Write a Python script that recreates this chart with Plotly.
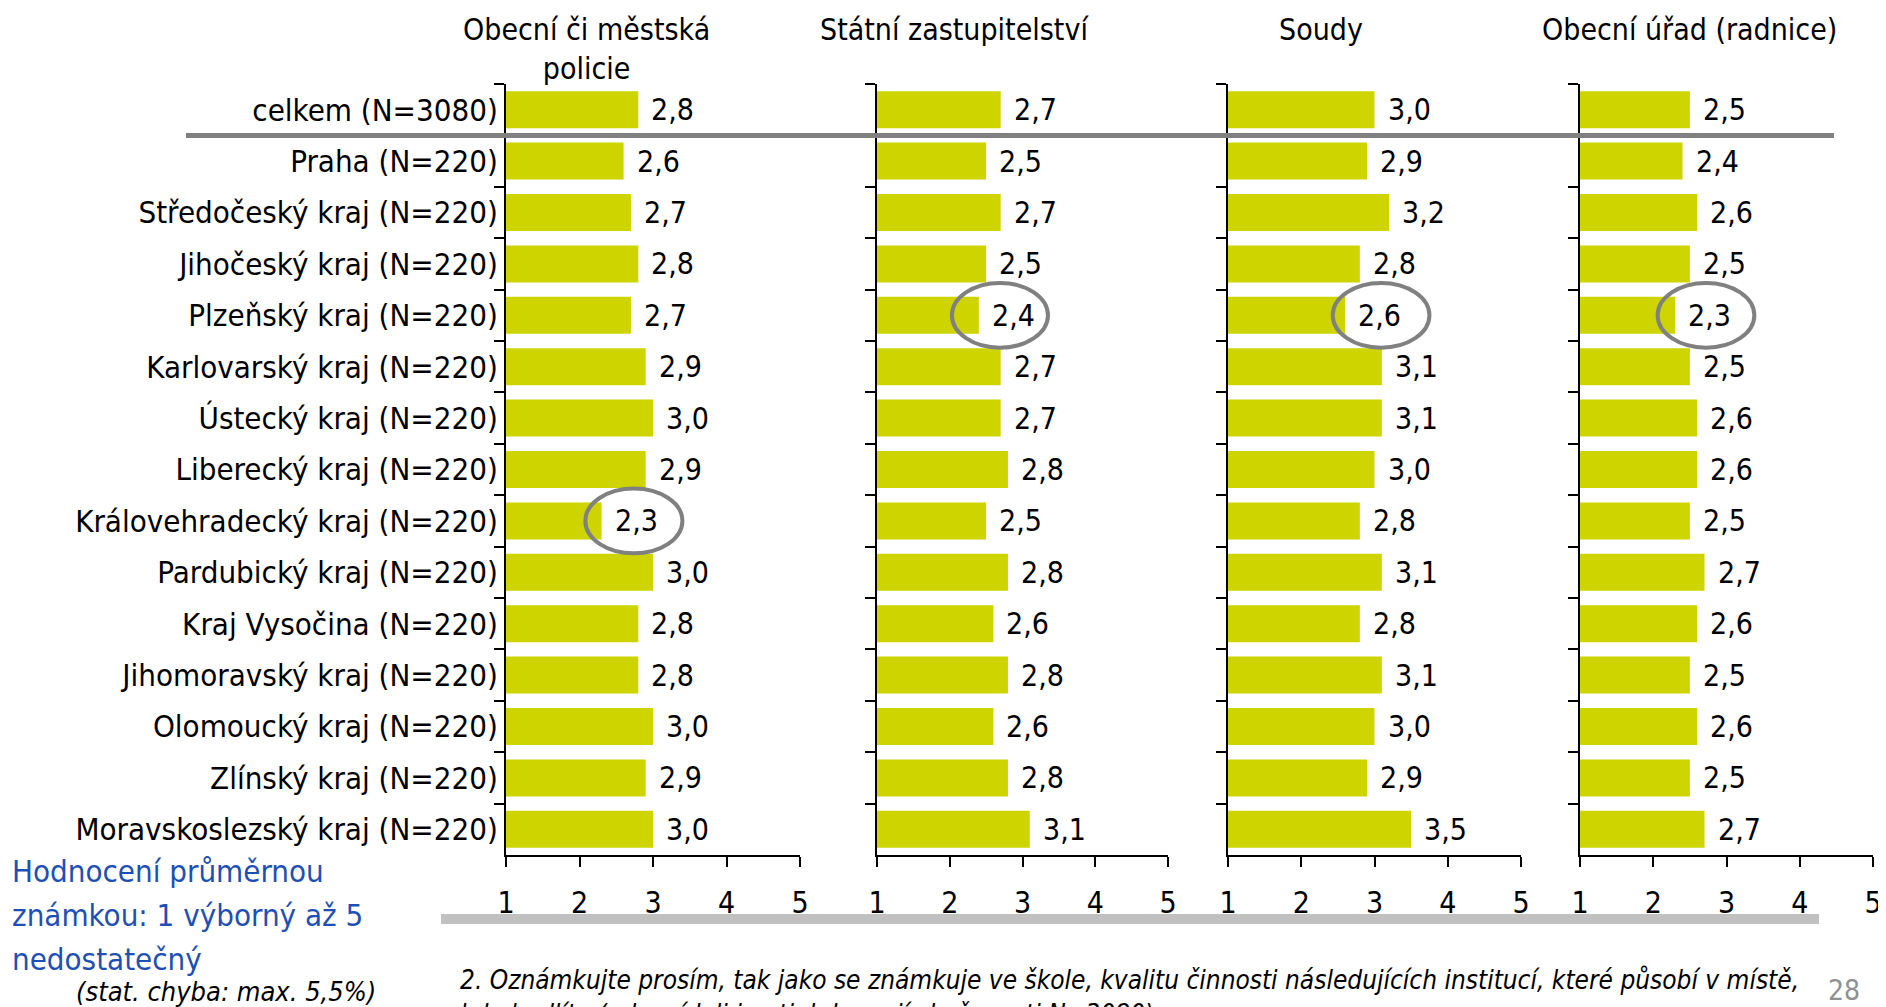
import plotly.graph_objects as go

regions = ["celkem (N=3080)", "Praha (N=220)", "Středočeský kraj (N=220)", "Jihočeský kraj (N=220)",
           "Plzeňský kraj (N=220)", "Karlovarský kraj (N=220)", "Ústecký kraj (N=220)",
           "Liberecký kraj (N=220)", "Královehradecký kraj (N=220)", "Pardubický kraj (N=220)",
           "Kraj Vysočina (N=220)", "Jihomoravský kraj (N=220)", "Olomoucký kraj (N=220)",
           "Zlínský kraj (N=220)", "Moravskoslezský kraj (N=220)"]

titles = ["Obecní či městská<br>policie", "Státní zastupitelství", "Soudy", "Obecní úřad (radnice)"]

policie = [2.8, 2.6, 2.7, 2.8, 2.7, 2.9, 3.0, 2.9, 2.3, 3.0, 2.8, 2.8, 3.0, 2.9, 3.0]
zastupitelstvi = [2.7, 2.5, 2.7, 2.5, 2.4, 2.7, 2.7, 2.8, 2.5, 2.8, 2.6, 2.8, 2.6, 2.8, 3.1]
soudy = [3.0, 2.9, 3.2, 2.8, 2.6, 3.1, 3.1, 3.0, 2.8, 3.1, 2.8, 3.1, 3.0, 2.9, 3.5]
urad = [2.5, 2.4, 2.6, 2.5, 2.3, 2.5, 2.6, 2.6, 2.5, 2.7, 2.6, 2.5, 2.6, 2.5, 2.7]

series = [policie, zastupitelstvi, soudy, urad]
tick_vals = [1, 2, 3, 4, 5]
tick_text = ["1", "2", "3", "4", "5"]

# highlighted (panel index, region index, label-centre offset)
highlights = [(0, 8, 0.44), (1, 4, 0.29), (2, 4, 0.49), (3, 4, 0.42)]

note_lines = ["Hodnocení průměrnou", "známkou: 1 výborný až 5", "nedostatečný"]
stat_note = "(stat. chyba: max. 5,5%)"
footnote = ("2. Oznámkujte prosím, tak jako se známkuje ve škole, kvalitu činnosti následujících institucí, které působí v místě,<br>"
            "kde bydlíte (odpovídali jen ti, kdo mají zkušenosti N=3080)")
page_no = "28"

W, H = 1886, 1007
OFF = 8  # page body margin: figure origin sits 8px right/down in the window
FONT = "DejaVu Sans Condensed, Noto Sans, sans-serif"
BAR = "#CDD400"
FS = 31


def px(v):
    return (v - OFF) / W


def py(v):
    return 1 - (v - OFF) / H


domains_px = [(506, 800), (877, 1168), (1228, 1521), (1580, 1873)]
title_x_px = [586, 954, 1321, 1689]
y_top, y_bot = 84, 855

fig = go.Figure()
ann = []
shapes = []
for i, vals in enumerate(series):
    n = "" if i == 0 else str(i + 1)
    fig.add_trace(go.Bar(x=vals, y=regions, orientation="h", marker=dict(color=BAR, line=dict(width=0)),
                         xaxis="x" + n, yaxis="y" + n, showlegend=False, hoverinfo="x+y"))
    d0, d1 = domains_px[i]
    fig.update_layout(**{
        "xaxis" + n: dict(domain=[px(d0), px(d1)], range=[1, 5], tickvals=tick_vals, ticktext=tick_text,
                          showgrid=False, zeroline=False, showline=True, linecolor="black", linewidth=2,
                          ticks="outside", ticklen=10, tickwidth=2, tickcolor="black",
                          tickfont=dict(family=FONT, size=30, color="black"), ticklabelstandoff=10,
                          anchor="y" + n, fixedrange=True, automargin=False),
        "yaxis" + n: dict(domain=[py(y_bot), py(y_top)], type="category", categoryorder="array",
                          categoryarray=regions, range=[len(regions) - 0.5, -0.5],
                          showgrid=False, zeroline=False, showline=True, linecolor="black", linewidth=2,
                          ticks="outside", tickson="boundaries", ticklen=10, tickwidth=2, tickcolor="black",
                          showticklabels=(i == 0), tickfont=dict(family=FONT, size=FS, color="black"),
                          anchor="x" + n, fixedrange=True, automargin=False),
    })
    for r, v in zip(regions, vals):
        ann.append(dict(x=v, y=r, xref="x" + n, yref="y" + n, text=f"{v:.1f}".replace(".", ","),
                        showarrow=False, xanchor="left", yanchor="middle", xshift=11,
                        font=dict(family=FONT, size=30, color="black")))
    ann.append(dict(x=px(title_x_px[i]), y=py(10), xref="paper", yref="paper", text=titles[i],
                    showarrow=False, xanchor="center", yanchor="top",
                    font=dict(family=FONT, size=30, color="black")))

for p, r, off in highlights:
    n = "" if p == 0 else str(p + 1)
    v = series[p][r]
    cx = v + off
    shapes.append(dict(type="circle", xref="x" + n, yref="y" + n, x0=cx - 0.66, x1=cx + 0.66,
                       y0=r - 0.63, y1=r + 0.63, line=dict(color="#808080", width=4)))

# separator under total row
shapes.append(dict(type="line", xref="paper", yref="y", x0=px(186), x1=px(1834), y0=0.5, y1=0.5,
                   line=dict(color="#808080", width=5)))
# grey band above footnote
shapes.append(dict(type="rect", xref="paper", yref="paper", x0=px(441), x1=px(1819),
                   y0=py(924), y1=py(914), fillcolor="#C0C0C0", line=dict(width=0)))

for k, line in enumerate(note_lines):
    ann.append(dict(x=px(10), y=py(871 + 44 * k), xref="paper", yref="paper", text=line,
                    showarrow=False, xanchor="left", yanchor="middle",
                    font=dict(family=FONT, size=FS, color="#1E50B4")))
ann.append(dict(x=px(74), y=py(991), xref="paper", yref="paper", text=f"<i>{stat_note}</i>",
                showarrow=False, xanchor="left", yanchor="middle",
                font=dict(family=FONT, size=27, color="black")))
ann.append(dict(x=px(458), y=py(963), xref="paper", yref="paper", text=f"<i>{footnote}</i>",
                showarrow=False, xanchor="left", yanchor="top", align="left",
                font=dict(family=FONT, size=26, color="black")))
ann.append(dict(x=px(1826), y=py(990), xref="paper", yref="paper", text=page_no,
                showarrow=False, xanchor="left", yanchor="middle",
                font=dict(family=FONT, size=28, color="#909090")))

fig.update_layout(width=W, height=H, margin=dict(l=0, r=0, t=0, b=0, autoexpand=False),
                  paper_bgcolor="white", plot_bgcolor="white", bargap=0.28, annotations=ann,
                  shapes=shapes, font=dict(family=FONT, size=FS, color="black"))
fig.write_html("out.html")
